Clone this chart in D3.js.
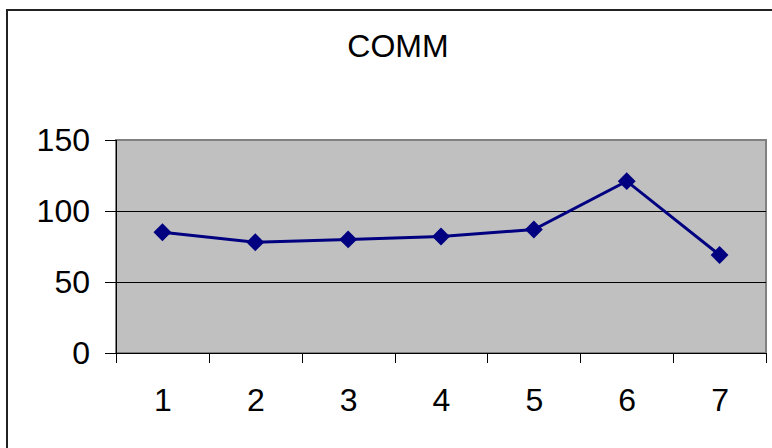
<!DOCTYPE html>
<html>
<head>
<meta charset="utf-8">
<script src="https://cdn.jsdelivr.net/npm/d3@7"></script>
<style>
  body { margin: 0; background: #fff; }
  svg { display: block; font-family: "Liberation Sans", Arial, sans-serif; }
</style>
</head>
<body>
<svg id="chart" width="772" height="448"></svg>
<script>
const title = "COMM";
const categories = [1, 2, 3, 4, 5, 6, 7];
const values = [85, 78, 80, 82, 87, 121, 69];
const yTicks = [0, 50, 100, 150];

const svg = d3.select("#chart");
const plot = { left: 116, top: 140, right: 766, bottom: 353 };

// outer chart frame (right and bottom run off the picture)
svg.append("rect")
   .attr("x", 7).attr("y", 10)
   .attr("width", 768).attr("height", 450)
   .attr("fill", "none")
   .attr("stroke", "#222")
   .attr("stroke-width", 2);

const xScale = d3.scaleLinear()
                 .domain([0.5, categories.length + 0.5])
                 .range([plot.left, plot.right]);
const yScale = d3.scaleLinear()
                 .domain([0, 150])
                 .range([plot.bottom, plot.top]);

// gray plot area
svg.append("rect")
   .attr("x", plot.left).attr("y", plot.top)
   .attr("width", plot.right - plot.left)
   .attr("height", plot.bottom - plot.top)
   .attr("fill", "#c0c0c0")
   .attr("stroke", "#808080")
   .attr("stroke-width", 2);

// gridlines
svg.append("g")
   .attr("shape-rendering", "crispEdges")
   .selectAll("line")
   .data(yTicks.filter(d => d > 0 && d < 150))
   .enter().append("line")
     .attr("x1", plot.left).attr("x2", plot.right)
     .attr("y1", d => yScale(d)).attr("y2", d => yScale(d))
     .attr("stroke", "#000")
     .attr("stroke-width", 1);

const yAxis = d3.axisLeft(yScale)
                .tickValues(yTicks)
                .tickSize(11)
                .tickPadding(15)
                .tickFormat(d3.format("d"));
svg.append("g")
   .attr("transform", `translate(${plot.left}, 0)`)
   .attr("shape-rendering", "crispEdges")
   .call(yAxis)
   .call(g => g.selectAll("text").attr("font-size", 32).attr("fill", "#000").attr("font-family", null))
   .call(g => g.selectAll("line, path").attr("stroke", "#000"))
   .call(g => g.select(".domain").attr("d", `M0,${plot.top}V${plot.bottom}`));

// x tick marks at category boundaries
const xTickAxis = d3.axisBottom(xScale)
                    .tickValues(d3.range(0.5, categories.length + 1))
                    .tickSize(10)
                    .tickFormat("");
svg.append("g")
   .attr("transform", `translate(0, ${plot.bottom})`)
   .attr("shape-rendering", "crispEdges")
   .call(xTickAxis)
   .call(g => g.selectAll("line, path").attr("stroke", "#000"))
   .call(g => g.select(".domain").attr("d", `M${plot.left},0H${plot.right}`));

// x labels at category centers
const xLabelAxis = d3.axisBottom(xScale)
                     .tickValues(categories)
                     .tickSize(0)
                     .tickPadding(35)
                     .tickFormat(d3.format("d"));
svg.append("g")
   .attr("transform", `translate(0, ${plot.bottom})`)
   .call(xLabelAxis)
   .call(g => g.select(".domain").remove())
   .call(g => g.selectAll("text").attr("font-size", 32).attr("fill", "#000").attr("font-family", null));

const data = categories.map((c, i) => ({ cat: c, value: values[i] }));

const line = d3.line()
               .x(d => xScale(d.cat))
               .y(d => yScale(d.value));

svg.append("path")
   .attr("d", line(data))
   .attr("fill", "none")
   .attr("stroke", "#000080")
   .attr("stroke-width", 3);

const diamond = d3.symbol().type(d3.symbolSquare).size(160);
svg.append("g")
   .selectAll("path")
   .data(data)
   .enter().append("path")
     .attr("d", diamond)
     .attr("transform", d => `translate(${xScale(d.cat)}, ${yScale(d.value)}) rotate(45)`)
     .attr("fill", "#000080");

svg.append("text")
   .attr("x", 398)
   .attr("y", 57)
   .attr("text-anchor", "middle")
   .attr("font-size", 32)
   .text(title);
</script>
</body>
</html>
